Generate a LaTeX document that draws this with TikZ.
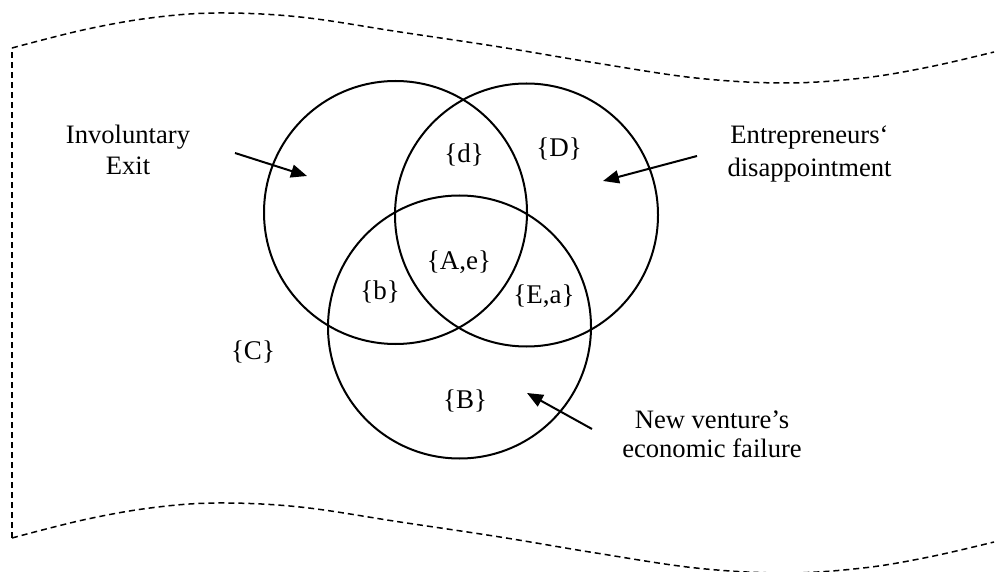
\documentclass[tikz,border=0pt]{standalone}
\usepackage{fontspec}
\setmainfont{Liberation Serif}
\usetikzlibrary{arrows.meta}
\begin{document}
\begin{tikzpicture}[x=0.5pt,y=-0.5pt,
  setcircle/.style={circle,draw,line width=1pt,minimum size=131.5pt,inner sep=0pt},
  setlabel/.style={inner sep=0pt,font=\fontsize{13.5}{15.5}\selectfont},
  sidelabel/.style={inner sep=0pt,align=center,font=\fontsize{13.3}{15.5}\selectfont},
  pointer/.style={line width=1pt,-{Triangle[length=8pt,width=6.5pt]}},
  border/.style={line width=0.75pt,dash pattern=on 3pt off 2pt}]
\useasboundingbox (0,0) rectangle (996,572);
% dashed border
\draw[border] (12,538) -- (12,48);
\draw[border] plot[smooth,tension=0.6] coordinates {(12,48) (83,30) (150,18) (217,13) (300,17) (400,32) (500,47) (596,63) (696,78) (785,83) (863,78) (929,67) (994,52)};
\begin{scope}[shift={(0,490)}]
\draw[border] plot[smooth,tension=0.6] coordinates {(12,48) (83,30) (150,18) (217,13) (300,17) (400,32) (500,47) (596,63) (696,78) (785,83) (863,78) (929,67) (994,52)};
\end{scope}
% circles
\node[setcircle] (exit) at (395.5,212.5) {};
\node[setcircle] (disap) at (526.5,215) {};
\node[setcircle] (fail) at (459.5,327) {};
% set labels
\node[setlabel] (d) at (464,155) {\{d\}};
\node[setlabel] (D) at (559,149) {\{D\}};
\node[setlabel] (Ae) at (459,262) {\{A,e\}};
\node[setlabel] (b) at (380,292) {\{b\}};
\node[setlabel] (Ea) at (544,296) {\{E,a\}};
\node[setlabel] (C) at (253,352) {\{C\}};
\node[setlabel] (B) at (465,401) {\{B\}};
% side labels
\node[sidelabel] (tExit) at (128,149.5) {Involuntary\\Exit};
\node[sidelabel,font=\fontsize{13.3}{16.5}\selectfont] (tDis) at (809.5,153.5) {Entrepreneurs‘\\disappointment};
\node[sidelabel,font=\fontsize{13.3}{14.5}\selectfont] (tFail) at (712,434.5) {New venture’s\\economic failure};
% arrows
\coordinate (a1s) at (235,153);
\coordinate (a1e) at (307,176);
\coordinate (a2s) at (697,156);
\coordinate (a2e) at (603,181);
\coordinate (a3s) at (592,429);
\coordinate (a3e) at (527,393);
\draw[pointer] (a1s) -- (a1e);
\draw[pointer] (a2s) -- (a2e);
\draw[pointer] (a3s) -- (a3e);
\end{tikzpicture}
\end{document}
